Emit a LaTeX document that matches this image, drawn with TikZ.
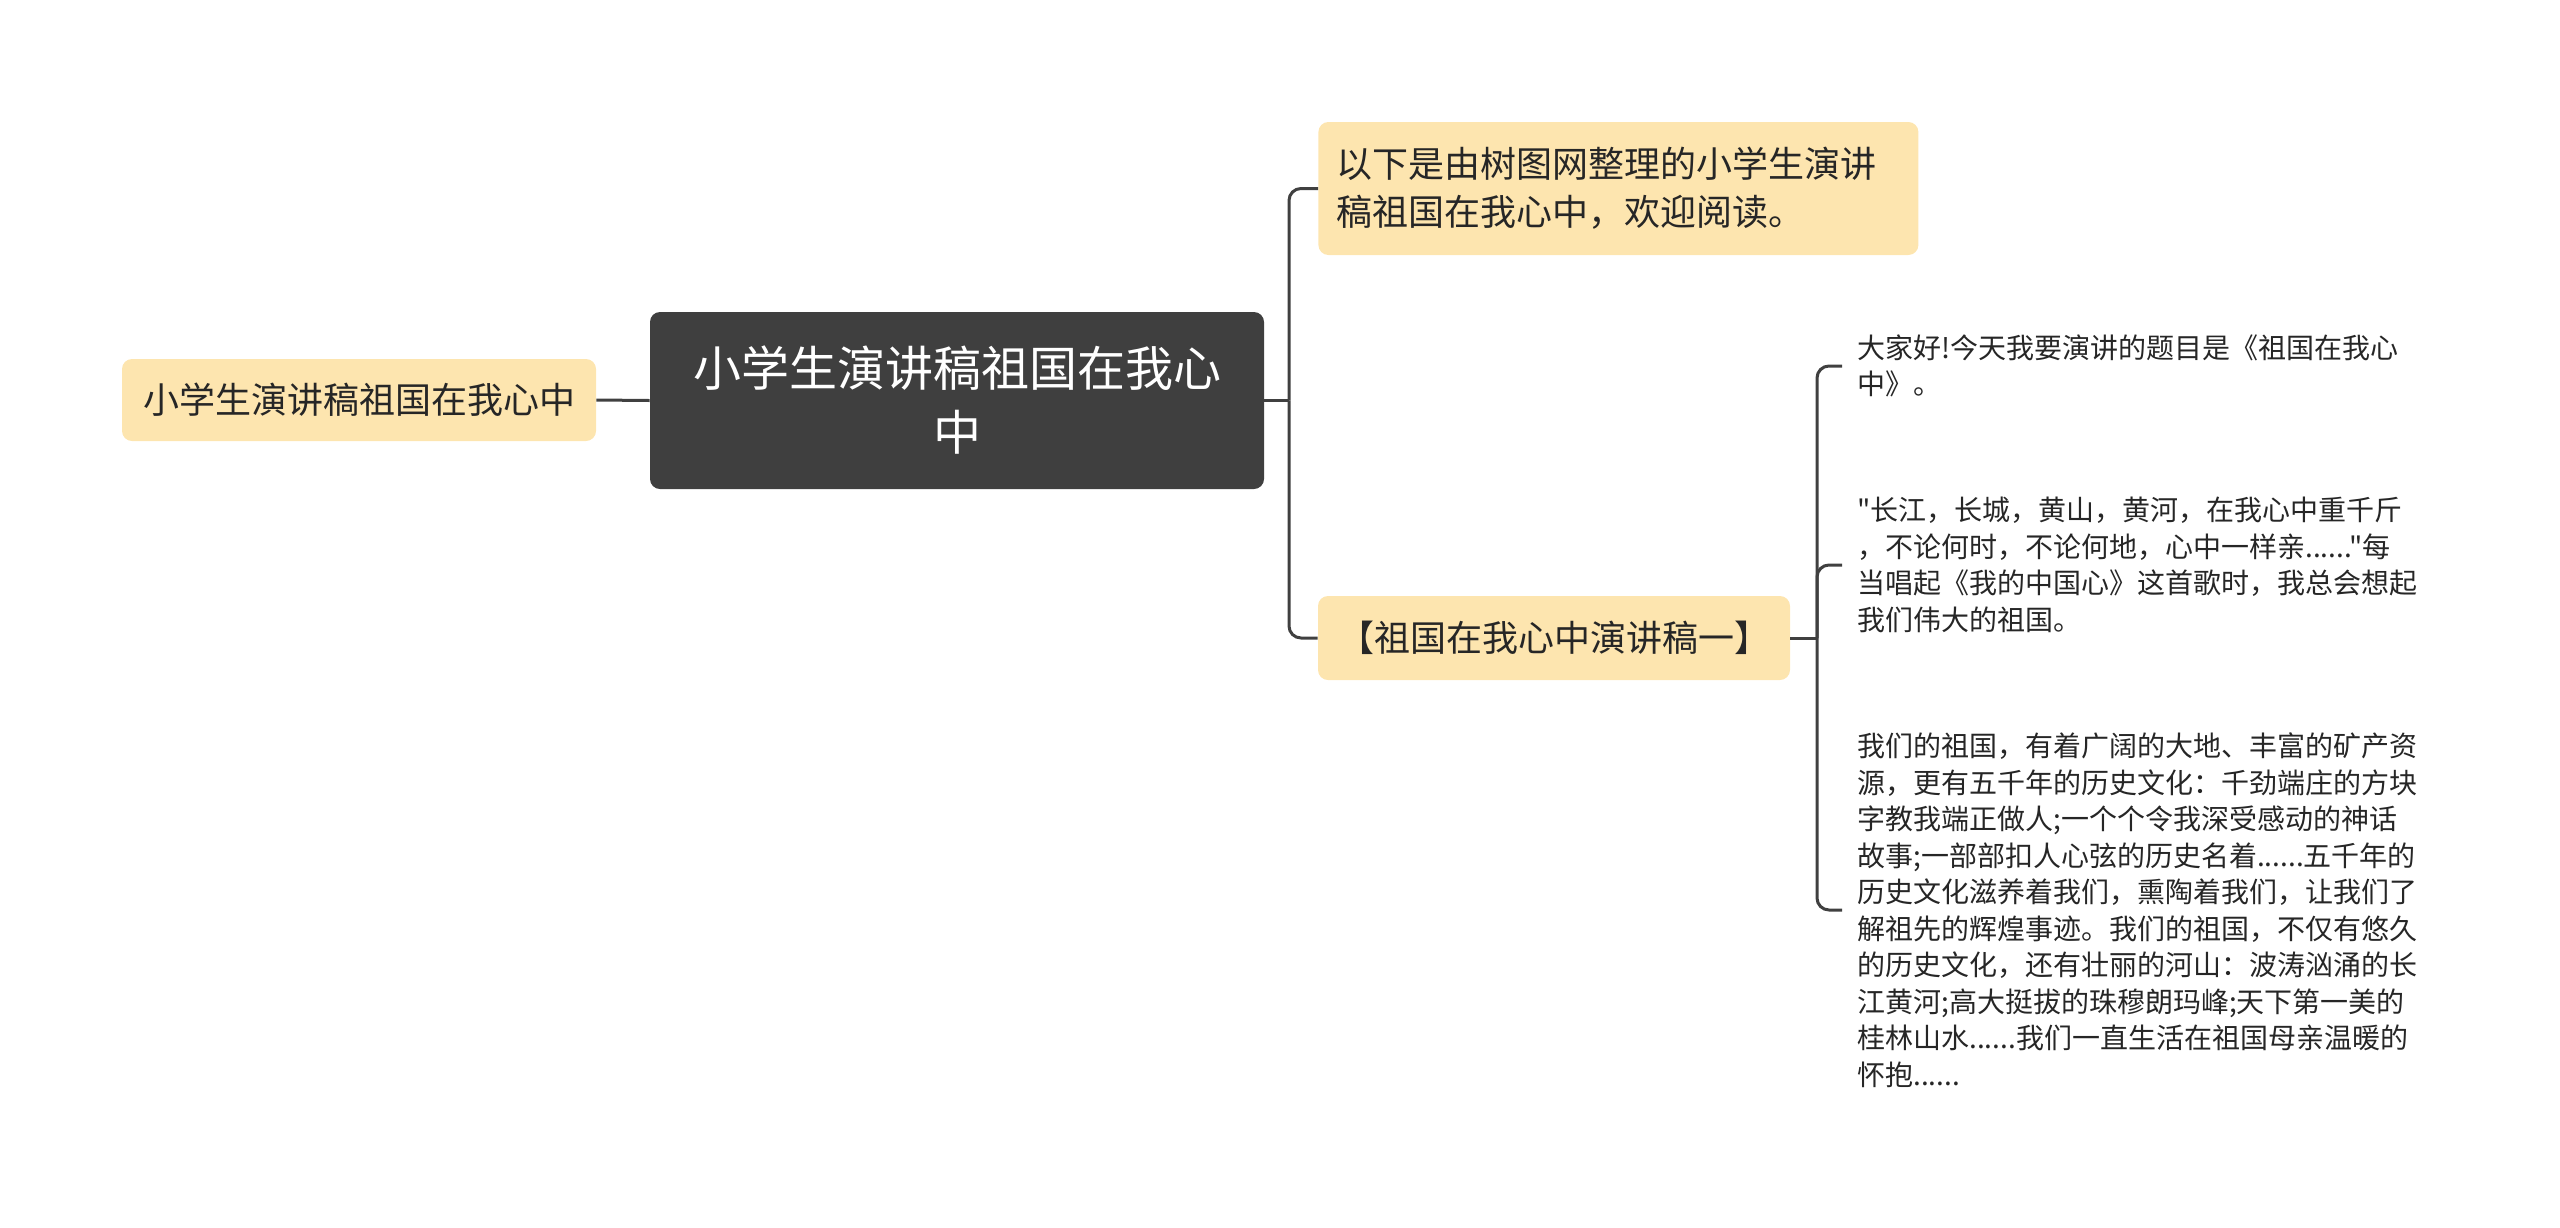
\documentclass[tikz,border=0pt]{standalone}
\usepackage{fontspec}
\newfontfamily\cjk{Noto Sans CJK SC}
\definecolor{nodefill}{HTML}{FDE5AF}
\definecolor{darkfill}{HTML}{3F3F3F}
\definecolor{linec}{HTML}{404040}
\definecolor{txt}{HTML}{262626}
\begin{document}
\begin{tikzpicture}[x=0.5pt,y=-0.5pt,
  conn/.style={draw=linec, line width=1.5pt, rounded corners=6pt},
  topicbox/.style={fill=nodefill, rounded corners=5pt, text=txt, inner sep=0pt,
    font=\cjk\fontsize{18}{24}\selectfont},
  centralbox/.style={fill=darkfill, rounded corners=5pt, text=white, inner sep=0pt,
    align=center, font=\cjk\fontsize{24}{32}\selectfont,
    minimum width=307pt, minimum height=88.5pt},
  leafbox/.style={anchor=west, align=left, text=txt, inner xsep=7.5pt, inner ysep=0pt,
    font=\cjk\fontsize{14}{18.25}\selectfont}
]
\useasboundingbox (0,0) rectangle (2560,1227);

\node[centralbox] (center) at (957,400.5) {小学生演讲稿祖国在我心\\中};
\node[topicbox, minimum width=237pt, minimum height=41pt] (left) at (359,400) {小学生演讲稿祖国在我心中};
\node[topicbox, anchor=west, text width=282pt, inner xsep=9pt, minimum height=66.5pt, align=left] (intro) at (1318,188.5) {以下是由树图网整理的小学生演讲\\稿祖国在我心中，欢迎阅读。};
\node[topicbox, minimum width=236pt, minimum height=42pt] (speech) at (1554,638) {【祖国在我心中演讲稿一】};

\node[leafbox] (c1) at (1842,366) {大家好!今天我要演讲的题目是《祖国在我心\\中》。};
\node[leafbox] (c2) at (1842,565) {"长江，长城，黄山，黄河，在我心中重千斤\\，不论何时，不论何地，心中一样亲......"每\\当唱起《我的中国心》这首歌时，我总会想起\\我们伟大的祖国。};
\node[leafbox] (c3) at (1842,910) {我们的祖国，有着广阔的大地、丰富的矿产资\\源，更有五千年的历史文化：千劲端庄的方块\\字教我端正做人;一个个令我深受感动的神话\\故事;一部部扣人心弦的历史名着......五千年的\\历史文化滋养着我们，熏陶着我们，让我们了\\解祖先的辉煌事迹。我们的祖国，不仅有悠久\\的历史文化，还有壮丽的河山：波涛汹涌的长\\江黄河;高大挺拔的珠穆朗玛峰;天下第一美的\\桂林山水......我们一直生活在祖国母亲温暖的\\怀抱......};

\coordinate (j1) at (1289,400.5);
\coordinate (j2) at (1817,638);

\draw[conn] (left.east) -- (center.west);
\draw[conn] (center.east) -- (j1);
\draw[conn] (j1) |- (intro.west);
\draw[conn] (j1) |- (speech.west);
\draw[conn] (speech.east) -- (j2);
\draw[conn] (j2) |- (c1.west);
\draw[conn] (j2) |- (c2.west);
\draw[conn] (j2) |- (c3.west);
\end{tikzpicture}
\end{document}
